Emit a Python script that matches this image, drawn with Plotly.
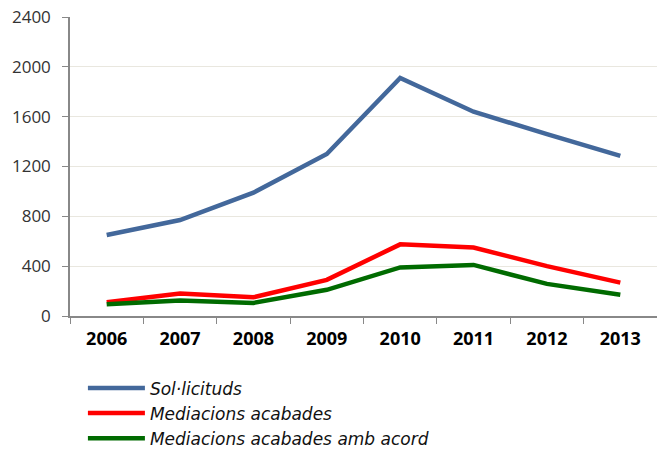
import plotly.graph_objects as go

years = ["2006", "2007", "2008", "2009", "2010", "2011", "2012", "2013"]
solicituds = [650, 770, 990, 1300, 1910, 1640, 1460, 1285]
acabades = [110, 180, 150, 290, 575, 550, 400, 268]
acord = [95, 125, 105, 210, 390, 410, 258, 170]

names = ["Sol·licituds", "Mediacions acabades", "Mediacions acabades amb acord"]
colors = ["#43689B", "#FF0000", "#006B00"]

fig = go.Figure()
for name, vals, col in zip(names, [solicituds, acabades, acord], colors):
    fig.add_trace(go.Scatter(x=years, y=vals, name=name, mode="lines",
                             line=dict(color=col, width=4.5)))

fig.update_layout(
    width=657, height=449,
    margin=dict(l=70, r=0, t=17, b=133, autoexpand=False),
    paper_bgcolor="white", plot_bgcolor="white",
    font=dict(family="Open Sans, sans-serif"),
    showlegend=True,
    legend=dict(x=0.022, xanchor="left", y=-0.182, yanchor="top",
                font=dict(size=17, color="#111111", family="DejaVu Sans", style="italic"),
                itemwidth=57, tracegroupgap=0, traceorder="normal",
                bgcolor="rgba(0,0,0,0)"),
)
fig.update_xaxes(type="category", tickson="boundaries", ticks="outside", ticklen=6,
                 tickcolor="#888888", showline=True, linecolor="#888888", linewidth=1.5,
                 showgrid=False, automargin=False, ticklabelstandoff=6,
                 tickfont=dict(size=18, color="#000000", weight="bold"),
                 range=[-0.5, 7.5])
fig.update_yaxes(range=[0, 2400], dtick=400, ticks="outside", ticklen=6,
                 tickcolor="#888888", showline=True, linecolor="#888888", linewidth=1.5,
                 gridcolor="#E9E7DF", gridwidth=1.3, zeroline=False, automargin=False,
                 ticklabelstandoff=8,
                 tickfont=dict(size=17, color="#333333"))

fig.write_html("out.html", config={"displayModeBar": False},
               post_script="document.body.style.margin='0';")
